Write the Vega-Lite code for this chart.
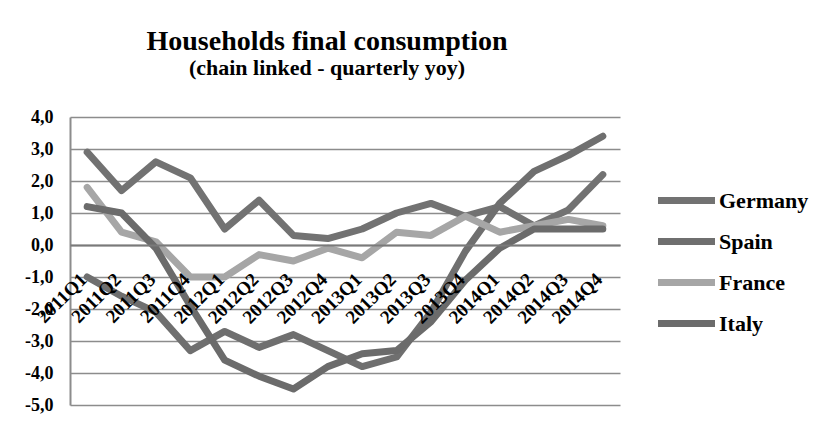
{
  "$schema": "https://vega.github.io/schema/vega-lite/v6.json",
  "autosize": "none",
  "width": 550,
  "height": 288,
  "padding": {"left": 70, "top": 117, "right": 215, "bottom": 30},
  "background": "white",
  "title": {
    "text": "Households final consumption",
    "subtitle": "(chain linked - quarterly yoy)",
    "font": "Liberation Serif",
    "fontSize": 28,
    "fontWeight": "bold",
    "color": "#000000",
    "subtitleFont": "Liberation Serif",
    "subtitleFontSize": 22,
    "subtitleFontWeight": "bold",
    "subtitleColor": "#000000",
    "subtitlePadding": 2,
    "anchor": "middle",
    "frame": "group",
    "dx": -18,
    "offset": 29
  },
  "data": {
    "values": [
      {"quarter": "2011Q1", "country": "Germany", "value": 2.9},
      {"quarter": "2011Q2", "country": "Germany", "value": 1.7},
      {"quarter": "2011Q3", "country": "Germany", "value": 2.6},
      {"quarter": "2011Q4", "country": "Germany", "value": 2.1},
      {"quarter": "2012Q1", "country": "Germany", "value": 0.5},
      {"quarter": "2012Q2", "country": "Germany", "value": 1.4},
      {"quarter": "2012Q3", "country": "Germany", "value": 0.3},
      {"quarter": "2012Q4", "country": "Germany", "value": 0.2},
      {"quarter": "2013Q1", "country": "Germany", "value": 0.5},
      {"quarter": "2013Q2", "country": "Germany", "value": 1.0},
      {"quarter": "2013Q3", "country": "Germany", "value": 1.3},
      {"quarter": "2013Q4", "country": "Germany", "value": 0.9},
      {"quarter": "2014Q1", "country": "Germany", "value": 1.2},
      {"quarter": "2014Q2", "country": "Germany", "value": 0.6},
      {"quarter": "2014Q3", "country": "Germany", "value": 1.1},
      {"quarter": "2014Q4", "country": "Germany", "value": 2.2},
      {"quarter": "2011Q1", "country": "Spain", "value": -1.0},
      {"quarter": "2011Q2", "country": "Spain", "value": -1.6},
      {"quarter": "2011Q3", "country": "Spain", "value": -2.1},
      {"quarter": "2011Q4", "country": "Spain", "value": -3.3},
      {"quarter": "2012Q1", "country": "Spain", "value": -2.7},
      {"quarter": "2012Q2", "country": "Spain", "value": -3.2},
      {"quarter": "2012Q3", "country": "Spain", "value": -2.8},
      {"quarter": "2012Q4", "country": "Spain", "value": -3.3},
      {"quarter": "2013Q1", "country": "Spain", "value": -3.8},
      {"quarter": "2013Q2", "country": "Spain", "value": -3.5},
      {"quarter": "2013Q3", "country": "Spain", "value": -2.1},
      {"quarter": "2013Q4", "country": "Spain", "value": -0.2},
      {"quarter": "2014Q1", "country": "Spain", "value": 1.3},
      {"quarter": "2014Q2", "country": "Spain", "value": 2.3},
      {"quarter": "2014Q3", "country": "Spain", "value": 2.8},
      {"quarter": "2014Q4", "country": "Spain", "value": 3.4},
      {"quarter": "2011Q1", "country": "France", "value": 1.8},
      {"quarter": "2011Q2", "country": "France", "value": 0.4},
      {"quarter": "2011Q3", "country": "France", "value": 0.1},
      {"quarter": "2011Q4", "country": "France", "value": -1.0},
      {"quarter": "2012Q1", "country": "France", "value": -1.0},
      {"quarter": "2012Q2", "country": "France", "value": -0.3},
      {"quarter": "2012Q3", "country": "France", "value": -0.5},
      {"quarter": "2012Q4", "country": "France", "value": -0.1},
      {"quarter": "2013Q1", "country": "France", "value": -0.4},
      {"quarter": "2013Q2", "country": "France", "value": 0.4},
      {"quarter": "2013Q3", "country": "France", "value": 0.3},
      {"quarter": "2013Q4", "country": "France", "value": 0.9},
      {"quarter": "2014Q1", "country": "France", "value": 0.4},
      {"quarter": "2014Q2", "country": "France", "value": 0.6},
      {"quarter": "2014Q3", "country": "France", "value": 0.8},
      {"quarter": "2014Q4", "country": "France", "value": 0.6},
      {"quarter": "2011Q1", "country": "Italy", "value": 1.2},
      {"quarter": "2011Q2", "country": "Italy", "value": 1.0},
      {"quarter": "2011Q3", "country": "Italy", "value": -0.1},
      {"quarter": "2011Q4", "country": "Italy", "value": -1.9},
      {"quarter": "2012Q1", "country": "Italy", "value": -3.6},
      {"quarter": "2012Q2", "country": "Italy", "value": -4.1},
      {"quarter": "2012Q3", "country": "Italy", "value": -4.5},
      {"quarter": "2012Q4", "country": "Italy", "value": -3.8},
      {"quarter": "2013Q1", "country": "Italy", "value": -3.4},
      {"quarter": "2013Q2", "country": "Italy", "value": -3.3},
      {"quarter": "2013Q3", "country": "Italy", "value": -2.4},
      {"quarter": "2013Q4", "country": "Italy", "value": -1.1},
      {"quarter": "2014Q1", "country": "Italy", "value": -0.1},
      {"quarter": "2014Q2", "country": "Italy", "value": 0.5},
      {"quarter": "2014Q3", "country": "Italy", "value": 0.5},
      {"quarter": "2014Q4", "country": "Italy", "value": 0.5}
    ]
  },
  "mark": {"type": "line", "strokeWidth": 7, "strokeCap": "round", "strokeJoin": "round"},
  "encoding": {
    "x": {
      "field": "quarter",
      "type": "ordinal",
      "sort": null,
      "scale": {"type": "point", "padding": 0.5},
      "axis": {
        "title": null,
        "offset": -160,
        "zindex": 1,
        "ticks": false,
        "domainColor": "#7a7a7a",
        "domainWidth": 2,
        "labelAngle": -45,
        "labelAlign": "right",
        "labelBaseline": "middle",
        "labelPadding": 31,
        "labelOffset": -4,
        "labelFont": "Liberation Serif",
        "labelFontSize": 19,
        "labelFontWeight": "bold",
        "labelColor": "#000000",
        "labelOverlap": false,
        "labelBound": false,
        "labelFlush": false,
        "grid": false
      }
    },
    "y": {
      "field": "value",
      "type": "quantitative",
      "scale": {"domain": [-5, 4], "nice": false, "zero": false},
      "axis": {
        "title": null,
        "zindex": 0,
        "values": [-5, -4, -3, -2, -1, 0, 1, 2, 3, 4],
        "labelExpr": "(datum.value < 0 ? '-' : '') + replace(format(abs(datum.value), '.1f'), '.', ',')",
        "ticks": false,
        "domainColor": "#8c8c8c",
        "domainWidth": 2,
        "grid": true,
        "gridColor": "#8c8c8c",
        "gridWidth": 1.6,
        "labelPadding": 17,
        "labelFont": "Liberation Serif",
        "labelFontSize": 18,
        "labelFontWeight": "bold",
        "labelColor": "#000000"
      }
    },
    "color": {
      "field": "country",
      "type": "nominal",
      "sort": ["Germany", "Spain", "France", "Italy"],
      "scale": {
        "domain": ["Germany", "Spain", "France", "Italy"],
        "range": ["#727272", "#6f6f6f", "#a6a6a6", "#6b6b6b"]
      },
      "legend": {
        "title": null,
        "orient": "none",
        "legendX": 594,
        "legendY": 61,
        "symbolType": "M-1.5,0H1.5",
        "symbolSize": 1444,
        "symbolStrokeWidth": 7,
        "labelFont": "Liberation Serif",
        "labelFontSize": 22,
        "labelFontWeight": "bold",
        "labelColor": "#000000",
        "labelOffset": 10,
        "rowPadding": 4
      }
    }
  },
  "config": {
    "view": {"stroke": null}
  }
}
